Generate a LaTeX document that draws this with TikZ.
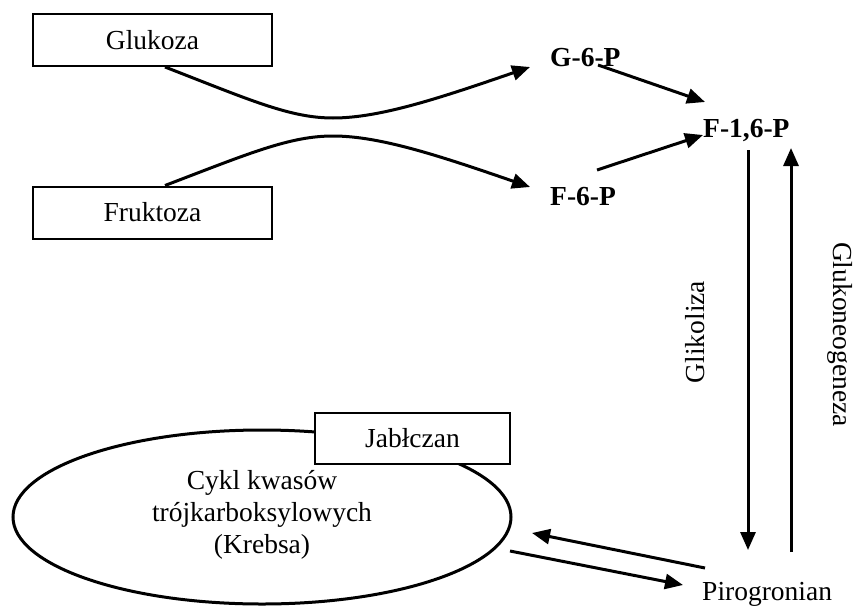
\documentclass[tikz,border=0pt]{standalone}
\usepackage{fontspec}
\setmainfont{Liberation Serif}
\usetikzlibrary{arrows.meta,calc,shapes.geometric}
\begin{document}
\begin{tikzpicture}[x=1pt,y=-1pt,
  txt/.style={font=\fontsize{27.5}{32}\selectfont, inner sep=0pt},
  lbl/.style={inner sep=0pt, font=\fontsize{27.5}{32}\selectfont\bfseries},
  box/.style={txt, draw, line width=2pt, minimum width=239pt, minimum height=52pt},
  arr/.style={line width=3pt, -{Triangle[length=18pt,width=15pt]}},
  ]
\useasboundingbox (0,0) rectangle (856,605);
\node[box] (gluk) at (152.5,40) {Glukoza};
\node[box] (fruk) at (152.5,212.5) {Fruktoza};
\node[lbl, anchor=base west] (g6p) at (550,66) {G-6-P};
\node[lbl, anchor=base west] (f6p) at (550,205) {F-6-P};
\node[lbl, anchor=base west] (f16p) at (703,137) {F-1,6-P};
\node[txt, anchor=base west] (piro) at (702,600) {Pirogronian};
\node[txt, rotate=90] (glik) at (695,332) {Glikoliza};
\node[txt, rotate=-90] (glukneo) at (840.5,334.5) {Glukoneogeneza};
\node[draw, ellipse, line width=3pt, minimum width=498pt, minimum height=174pt, inner sep=0pt] (krebs) at (262,517) {};
\node[txt, align=center] (krebstxt) at (262,515) {Cykl kwasów\\trójkarboksylowych\\(Krebsa)};
\node[box, fill=white, minimum width=195pt, minimum height=51pt] (jab) at (412.5,438.5) {Jabłczan};
% curves
\draw[arr] ($(gluk.south)+(12.5,0)$) .. controls (250,100) and (290,118) .. (333,118)
  .. controls (380,118) and (440,98) .. ($(g6p.base west)+(-20,1)$);
\draw[arr] ($(fruk.north)+(12.5,0)$) .. controls (250,153) and (290,136) .. (333,136)
  .. controls (380,136) and (440,156) .. ($(f6p.base west)+(-20,-18)$);
% straight arrows
\draw[arr] ($(g6p.base west)+(48,-1)$) -- ($(f16p.base west)+(2,-35)$);
\draw[arr] ($(f6p.base west)+(47,-35)$) -- ($(f16p.base west)+(0,-2)$);
\draw[arr] ($(f16p.base west)+(45,13)$) -- ($(piro.base west)+(46,-50)$);
\draw[arr] ($(piro.base west)+(89,-48)$) -- ($(f16p.base west)+(88,11)$);
\draw[arr] ($(piro.base west)+(3,-32)$) -- ($(krebs.center)+(270,16)$);
\draw[arr] ($(krebs.center)+(248,34)$) -- ($(piro.base west)+(-19,-15)$);
\end{tikzpicture}
\end{document}
